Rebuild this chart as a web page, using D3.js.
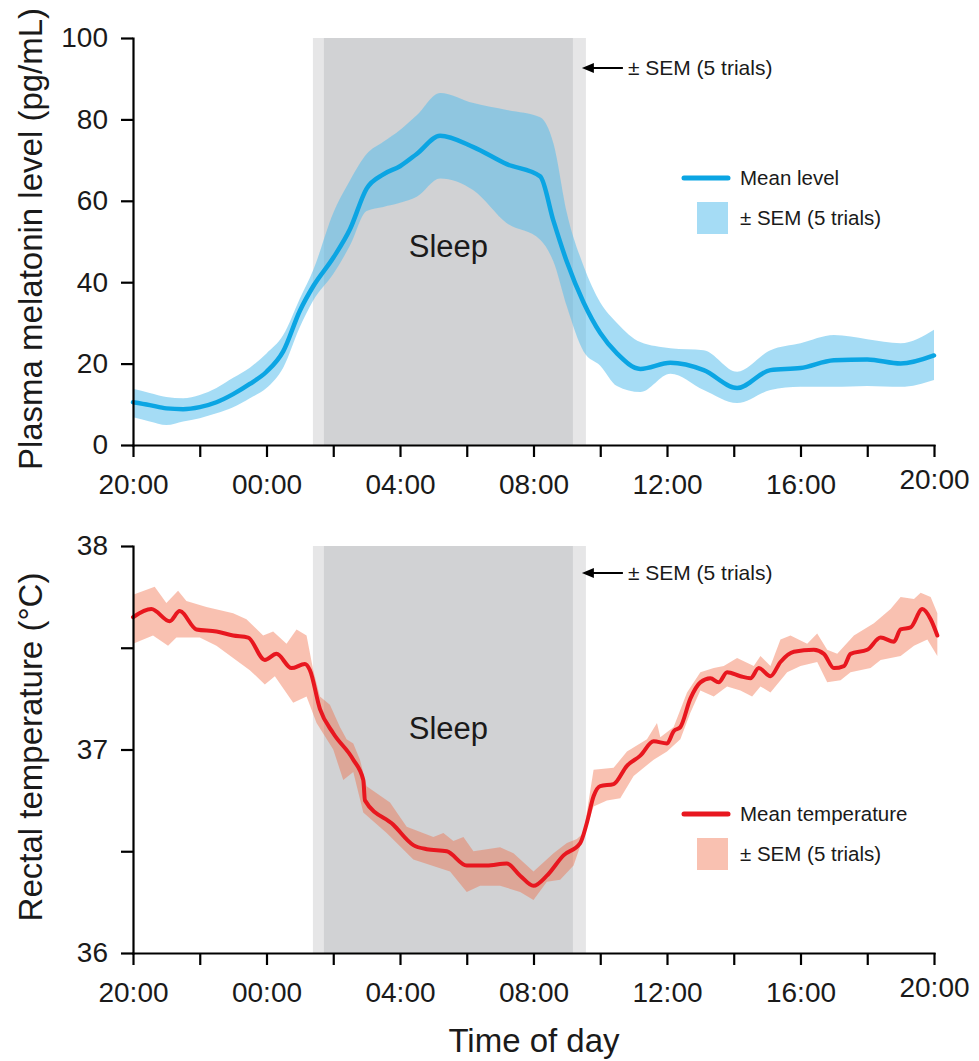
<!DOCTYPE html>
<html>
<head>
<meta charset="utf-8">
<script src="https://cdn.jsdelivr.net/npm/d3@7"></script>
<style>
	body { margin: 0; background: #fff; }
	svg text { font-family: "Liberation Sans", Arial, sans-serif; fill: #1a1a1a; }
</style>
</head>
<body>
<div id="chart"></div>
<script>
// hours after 20:00
const hourTicks = [0, 2, 4, 6, 8, 10, 12, 14, 16, 18, 20, 22, 24];
const xTickLabels = ["20:00", "00:00", "04:00", "08:00", "12:00", "16:00", "20:00"];

const melTicks = [0, 20, 40, 60, 80, 100];
const tempTicks = [36, 36.5, 37, 37.5, 38];
const tempTickLabels = ["36", "", "37", "", "38"];

// sleep period and its SEM (hours after 20:00)
const sleepWindow = [5.72, 13.18];
const sleepSemWindow = [5.39, 13.57];

// plasma melatonin (pg/mL)
const melHours = [0, 0.5, 1, 1.5, 2, 2.5, 3, 3.5, 4, 4.5, 5, 5.4, 6, 6.5, 7, 7.5, 8, 8.5, 9.2, 10.2, 11.2, 12.2, 12.6, 13, 13.5, 14, 14.5, 15.2, 16.1, 17.1, 18.1, 19.1, 20, 21, 22, 23, 24];
const melMean = [10.5, 9.8, 9.0, 8.8, 9.3, 10.5, 12.5, 15, 18, 23, 33, 39, 46, 53, 63, 66.5, 68.5, 71.5, 76, 73.2, 69, 66, 55, 45, 35, 27.5, 22.5, 18.7, 20.2, 18.4, 14, 18.4, 18.9, 20.8, 21, 20, 22];
const melHigh = [13.8, 12.8, 11.8, 11.5, 12.3, 14, 16.5, 19, 22.5, 27, 36, 43, 57, 65, 71.5, 74.5, 77.4, 81, 86.5, 84, 82.3, 80.5, 74, 57, 44, 35, 30, 25.3, 23.8, 23.3, 18, 23.3, 25, 27, 26, 25, 28.3];
const melLow = [6.8, 5.8, 4.9, 5.8, 6.6, 7.8, 9.3, 11.5, 14, 19, 29, 35.5, 42, 49, 57.5, 58.5, 59.5, 61, 65.5, 62.6, 54.5, 50.4, 45, 34, 23, 19.5, 14.5, 13, 17.5, 13.5, 10.3, 13.5, 14.3, 14.3, 14.5, 14.3, 16];

// rectal temperature (°C)
const tempHours = [0, 0.55, 1.1, 1.4, 1.9, 2.5, 3.0, 3.45, 3.95, 4.3, 4.75, 5.15, 5.3, 5.6, 6.0, 6.6, 6.9, 6.95, 7.8, 8.4, 8.8, 9.4, 10.0, 10.6, 11.2, 11.6, 12.0, 12.4, 12.9, 13.4, 13.6, 13.8, 14.0, 14.4, 14.8, 15.2, 15.6, 16.0, 16.2, 16.4, 16.7, 17.0, 17.3, 17.55, 17.8, 18.2, 18.5, 18.75, 19.1, 19.4, 19.8, 20.4, 20.7, 21.0, 21.3, 21.5, 22.0, 22.4, 22.8, 23.0, 23.3, 23.65, 23.9, 24.1];
const tempMean = [37.65, 37.69, 37.63, 37.68, 37.59, 37.58, 37.56, 37.55, 37.44, 37.47, 37.40, 37.42, 37.39, 37.20, 37.08, 36.95, 36.85, 36.75, 36.63, 36.53, 36.51, 36.50, 36.43, 36.43, 36.44, 36.38, 36.33, 36.38, 36.48, 36.54, 36.64, 36.77, 36.82, 36.83, 36.92, 36.97, 37.04, 37.03, 37.09, 37.11, 37.25, 37.33, 37.35, 37.33, 37.38, 37.36, 37.35, 37.40, 37.36, 37.43, 37.48, 37.49, 37.47, 37.40, 37.41, 37.47, 37.49, 37.55, 37.53, 37.59, 37.60, 37.69, 37.64, 37.56];

const tempHiHours = [0, 0.65, 1.0, 1.35, 1.6, 2.2, 3.0, 3.4, 3.9, 4.2, 4.6, 4.9, 5.2, 5.4, 5.6, 5.9, 6.2, 6.4, 6.6, 6.8, 7.0, 7.7, 8.2, 9.0, 9.3, 9.6, 9.9, 10.2, 11.0, 11.4, 12.0, 12.6, 13.0, 13.3, 13.5, 13.8, 14.4, 14.8, 15.4, 15.7, 15.8, 16.2, 16.6, 17.0, 17.4, 17.7, 18.1, 18.6, 18.8, 19.1, 19.4, 19.7, 20.2, 20.5, 20.8, 21.1, 21.6, 22.2, 22.7, 23.0, 23.4, 23.6, 23.9, 24.1];
const tempHigh = [37.76, 37.80, 37.72, 37.78, 37.73, 37.70, 37.67, 37.64, 37.56, 37.58, 37.52, 37.59, 37.56, 37.39, 37.26, 37.22, 37.11, 37.05, 37.03, 36.95, 36.82, 36.74, 36.62, 36.57, 36.59, 36.55, 36.57, 36.50, 36.52, 36.49, 36.40, 36.49, 36.54, 36.56, 36.59, 36.90, 36.91, 36.99, 37.05, 37.13, 37.06, 37.11, 37.28, 37.38, 37.40, 37.41, 37.45, 37.41, 37.46, 37.41, 37.54, 37.56, 37.52, 37.57, 37.49, 37.47, 37.56, 37.62, 37.69, 37.75, 37.74, 37.77, 37.75, 37.67];

const tempLoHours = [0, 0.6, 1.05, 1.3, 2.0, 2.5, 3.5, 3.95, 4.25, 4.8, 5.2, 5.5, 6.0, 6.3, 6.6, 6.9, 7.6, 8.4, 9.5, 10.0, 10.4, 11.0, 11.6, 12.0, 12.4, 12.8, 13.2, 13.6, 13.8, 14.2, 14.6, 15.0, 15.6, 16.0, 16.4, 16.7, 17.0, 17.4, 17.8, 18.2, 18.55, 18.8, 19.1, 19.6, 20.0, 20.5, 20.8, 21.2, 21.5, 22.1, 22.4, 23.0, 23.4, 23.8, 24.1];
const tempLow = [37.52, 37.56, 37.51, 37.55, 37.55, 37.51, 37.39, 37.32, 37.36, 37.23, 37.26, 37.13, 37.00, 36.85, 36.89, 36.69, 36.59, 36.46, 36.40, 36.30, 36.33, 36.33, 36.30, 36.26, 36.35, 36.36, 36.43, 36.62, 36.72, 36.75, 36.76, 36.87, 36.95, 36.99, 37.05, 37.18, 37.29, 37.26, 37.31, 37.29, 37.26, 37.31, 37.28, 37.38, 37.41, 37.43, 37.33, 37.34, 37.38, 37.40, 37.44, 37.46, 37.51, 37.54, 37.46];

const c_sleep = "#d1d2d4",
	c_sleep_sem = "#e6e6e7",
	c_blue = "#0ba5e3",
	c_blue_band = "rgb(83,188,236)",
	c_red = "#e8171f",
	c_red_band = "rgb(240,100,60)",
	c_text = "#1a1a1a";

const font = "'Liberation Sans', Arial, sans-serif";
const width = 979, height = 1061;

let svg = d3.select("#chart")
	.append("svg")
	.attr("width", width)
	.attr("height", height);

let x = d3.scaleLinear()
	.domain([0, 24])
	.range([133, 934]);

let y_mel = d3.scaleLinear()
	.domain([0, 100])
	.range([445, 38]);

let y_temp = d3.scaleLinear()
	.domain([36, 38])
	.range([953, 546]);

function draw_panel(p) {
	let g = svg.append("g").attr("class", p.id);
	let y = p.y;
	let yTop = y.range()[1], yBot = y.range()[0];

	// sleep shading
	g.append("rect")
		.attr("x", x(sleepSemWindow[0]))
		.attr("width", x(sleepSemWindow[1]) - x(sleepSemWindow[0]))
		.attr("y", yTop)
		.attr("height", yBot - yTop)
		.attr("fill", c_sleep_sem);

	g.append("rect")
		.attr("x", x(sleepWindow[0]))
		.attr("width", x(sleepWindow[1]) - x(sleepWindow[0]))
		.attr("y", yTop)
		.attr("height", yBot - yTop)
		.attr("fill", c_sleep);

	g.append("text")
		.attr("x", x((sleepWindow[0] + sleepWindow[1]) / 2))
		.attr("y", p.sleepY)
		.attr("text-anchor", "middle")
		.attr("font-size", 31)
		.text("Sleep");

	// band + mean
	g.append("path")
		.attr("d", p.bandPath)
		.attr("fill", p.bandColor)
		.attr("fill-opacity", p.bandOpacity);

	g.append("path")
		.attr("d", p.linePath)
		.attr("fill", "none")
		.attr("stroke", p.lineColor)
		.attr("stroke-width", p.lineWidth)
		.attr("stroke-linejoin", "round")
		.attr("stroke-linecap", "round");

	// axes
	let xAxis = g.append("g")
		.attr("transform", "translate(0," + yBot + ")")
		.call(d3.axisBottom(x)
			.tickValues(hourTicks)
			.tickSize(12)
			.tickSizeOuter(0)
			.tickPadding(17)
			.tickFormat((d, i) => i % 2 === 0 ? xTickLabels[i / 2] : ""));

	xAxis.selectAll(".tick text")
		.filter((d, i) => i === hourTicks.length - 1)
		.attr("dy", "0.52em");

	let yAxis = g.append("g")
		.attr("transform", "translate(" + x(0) + ",0)")
		.call(d3.axisLeft(y)
			.tickValues(p.ticks)
			.tickSize(12)
			.tickSizeOuter(0)
			.tickPadding(13)
			.tickFormat((d, i) => p.tickLabels[i]));

	[xAxis, yAxis].forEach(a => {
		a.attr("font-family", font).attr("font-size", 28);
		a.select(".domain").attr("stroke", "#000").attr("stroke-width", 2.2).attr("stroke-linecap", "square");
		a.selectAll(".tick line").attr("stroke", "#000").attr("stroke-width", 2.2);
		a.selectAll(".tick text").attr("fill", c_text);
	});

	// y title
	g.append("text")
		.attr("transform", "translate(42," + p.titleY + ") rotate(-90)")
		.attr("text-anchor", "middle")
		.attr("font-size", 33)
		.text(p.title);

	// SEM arrow annotation
	let ay = p.arrowY;
	let x_arrow = x(sleepSemWindow[1]) - 4;
	g.append("line")
		.attr("x1", x_arrow + 8).attr("x2", x_arrow + 41)
		.attr("y1", ay).attr("y2", ay)
		.attr("stroke", "#000").attr("stroke-width", 2);
	g.append("path")
		.attr("d", "M" + x_arrow + "," + ay + "L" + (x_arrow + 12) + "," + (ay - 5) + "L" + (x_arrow + 12) + "," + (ay + 5) + "Z")
		.attr("fill", "#000");
	g.append("text")
		.attr("x", x_arrow + 46)
		.attr("y", ay + 7)
		.attr("font-size", 21)
		.text("± SEM (5 trials)");

	// legend
	let ly = p.legendY;
	g.append("line")
		.attr("x1", 684).attr("x2", 728)
		.attr("y1", ly).attr("y2", ly)
		.attr("stroke", p.lineColor)
		.attr("stroke-width", 5)
		.attr("stroke-linecap", "round");
	g.append("text")
		.attr("x", 740).attr("y", ly + 7)
		.attr("font-size", 20.5)
		.text(p.legendLabel);
	g.append("rect")
		.attr("x", 697).attr("y", ly + 24)
		.attr("width", 31).attr("height", 32)
		.attr("fill", p.bandColor)
		.attr("fill-opacity", p.bandOpacity);
	g.append("text")
		.attr("x", 740).attr("y", ly + 47)
		.attr("font-size", 20.5)
		.text("± SEM (5 trials)");
}

// melatonin panel
let melData = melHours.map((h, i) => ({ h: h, mean: melMean[i], hi: melHigh[i], lo: melLow[i] }));

let melArea = d3.area()
	.x(d => x(d.h))
	.y0(d => y_mel(d.lo))
	.y1(d => y_mel(d.hi))
	.curve(d3.curveMonotoneX);

let melLine = d3.line()
	.x(d => x(d.h))
	.y(d => y_mel(d.mean))
	.curve(d3.curveMonotoneX);

draw_panel({
	id: "melatonin",
	y: y_mel,
	ticks: melTicks,
	tickLabels: melTicks.map(String),
	bandPath: melArea(melData),
	bandColor: c_blue_band,
	bandOpacity: 0.52,
	linePath: melLine(melData),
	lineColor: c_blue,
	lineWidth: 4.5,
	sleepY: 257,
	arrowY: 68,
	legendY: 178,
	legendLabel: "Mean level",
	title: "Plasma melatonin level (pg/mL)",
	titleY: 239
});

// temperature panel
let tempBandLine = d3.line()
	.x(d => x(d[0]))
	.y(d => y_temp(d[1]));

let tempMeanLine = d3.line()
	.x(d => x(d[0]))
	.y(d => y_temp(d[1]))
	.curve(d3.curveMonotoneX);

let hiPts = tempHiHours.map((h, i) => [h, tempHigh[i]]);
let loPts = tempLoHours.map((h, i) => [h, tempLow[i]]).reverse();

draw_panel({
	id: "temperature",
	y: y_temp,
	ticks: tempTicks,
	tickLabels: tempTickLabels,
	bandPath: tempBandLine(hiPts.concat(loPts)) + "Z",
	bandColor: c_red_band,
	bandOpacity: 0.4,
	linePath: tempMeanLine(tempHours.map((h, i) => [h, tempMean[i]])),
	lineColor: c_red,
	lineWidth: 4,
	sleepY: 739,
	arrowY: 573,
	legendY: 814,
	legendLabel: "Mean temperature",
	title: "Rectal temperature (°C)",
	titleY: 747
});

// x title
svg.append("text")
	.attr("x", 534)
	.attr("y", 1052)
	.attr("text-anchor", "middle")
	.attr("font-size", 33)
	.text("Time of day");
</script>
</body>
</html>
